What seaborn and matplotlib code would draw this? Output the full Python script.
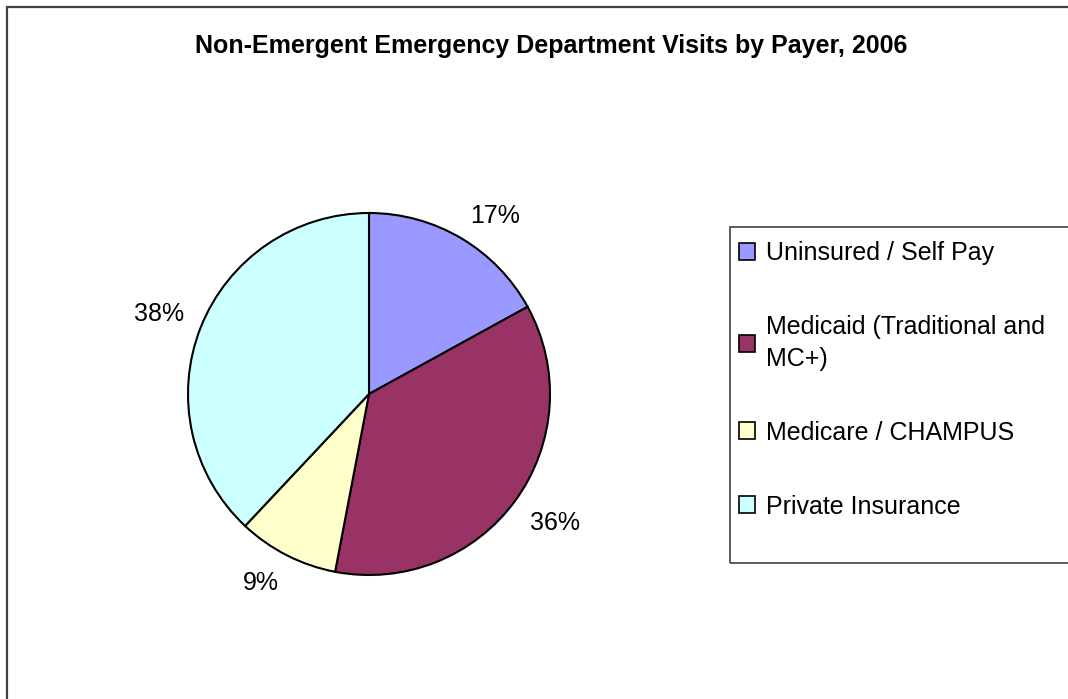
import matplotlib
matplotlib.use("Agg")
import numpy as np
import matplotlib.pyplot as plt
from matplotlib.patches import Rectangle
import seaborn as sns

# Payer shares of non-emergent ED visits (percent)
payers = ["Uninsured / Self Pay", "Medicaid (Traditional and\nMC+)",
          "Medicare / CHAMPUS", "Private Insurance"]
shares = [17, 36, 9, 38]
title = "Non-Emergent Emergency Department Visits by Payer, 2006"

sns.set_theme(style="white")
plt.rcParams["font.family"] = ["Liberation Sans", "DejaVu Sans"]
plt.rcParams["text.color"] = "black"

colors = sns.color_palette(["#9999FF", "#993366", "#FFFFCC", "#CCFFFF"])

W, H = 1068, 699
fig = plt.figure(figsize=(W / 100, H / 100), dpi=100)

# outer chart-area border (runs past the right and bottom edges)
fig.patches.append(Rectangle((7 / W, -0.05), 1.1, (H - 7) / H + 0.05,
                             transform=fig.transFigure, fill=False,
                             edgecolor="#404040", linewidth=1.6))

r_px = 181
cx, cy = 369, 394
ax = fig.add_axes([(cx - r_px) / W, (H - cy - r_px) / H, 2 * r_px / W, 2 * r_px / H])
wedges, _, pcts = ax.pie(shares, colors=colors, startangle=90, counterclock=False,
                         autopct="%1.0f%%",
                         wedgeprops=dict(edgecolor="black", linewidth=1.5),
                         textprops=dict(fontsize=18, color="black"))
ax.set_xlim(-1, 1)
ax.set_ylim(-1, 1)
ax.set_aspect("equal")
ax.axis("off")

# value labels sit just outside the rim, anchored by their nearest corner
for w, t in zip(wedges, pcts):
    ang = np.deg2rad((w.theta1 + w.theta2) / 2)
    c, s = np.cos(ang), np.sin(ang)
    t.set_position((1.1 * c, 1.1 * s))
    t.set_ha("left" if c >= 0 else "right")
    t.set_va("baseline" if s >= 0 else "top")

fig.text(551 / W, 1 - 46 / H, title, ha="center", va="center",
         fontsize=18, fontweight="bold", color="black")

# legend frame
fig.patches.append(Rectangle((730 / W, 1 - 563 / H), 0.5, 336 / H,
                             transform=fig.transFigure, fill=False,
                             edgecolor="#404040", linewidth=1.2))
leg = fig.legend(wedges, payers, loc="upper left",
                 bbox_to_anchor=(739 / W, 1 - 241 / H), frameon=False,
                 fontsize=18, handlelength=0.65, handleheight=0.65,
                 handletextpad=0.45, labelspacing=2.0, borderpad=0,
                 borderaxespad=0, labelcolor="black")
for h in leg.legend_handles:
    h.set_edgecolor("black")
    h.set_linewidth(1.2)
for t in leg.get_texts():
    t.set_linespacing(1.4)

fig.savefig("out.png", dpi=100)
